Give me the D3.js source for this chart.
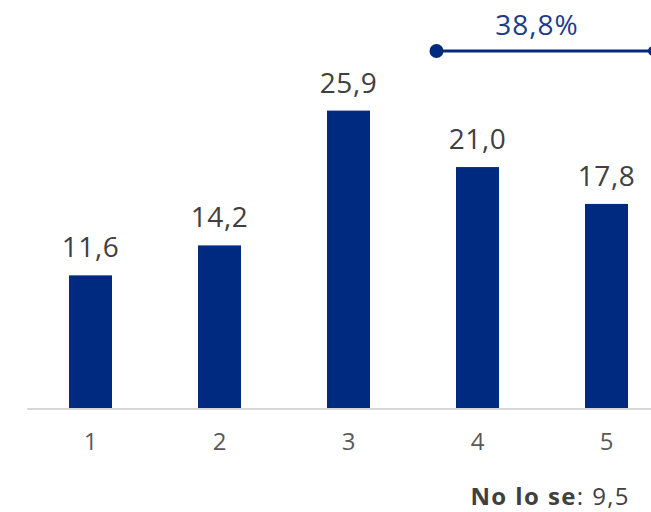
<!DOCTYPE html>
<html><head><meta charset="utf-8">
<script src="https://cdn.jsdelivr.net/npm/d3@7"></script>
<style>body{margin:0;background:#fff}svg{display:block}</style>
</head><body>
<svg id="c" width="651" height="512"></svg>
<script>
const categories = ["1","2","3","4","5"];
const values = [11.6, 14.2, 25.9, 21.0, 17.8];
const valueLabels = ["11,6","14,2","25,9","21,0","17,8"];
const bracketLabel = "38,8%";
const bracketFrom = "4";
const noLoSeLabel = "No lo se";
const noLoSeValue = "9,5";

const font = "Open Sans, sans-serif";
const svg = d3.select("#c");
const x = d3.scaleBand().domain(categories).range([26, 671]).paddingInner(2/3).paddingOuter(1/3);
const y = d3.scaleLinear().domain([0, 35.5]).range([409, 0]);

svg.selectAll("rect.bar").data(values).join("rect")
  .attr("class","bar")
  .attr("x",(d,i)=>x(categories[i]))
  .attr("y",d=>y(d))
  .attr("width",x.bandwidth())
  .attr("height",d=>y(0)-y(d))
  .attr("fill","#002A7F");

svg.selectAll("text.val").data(values).join("text")
  .attr("class","val")
  .attr("x",(d,i)=>x(categories[i])+x.bandwidth()/2)
  .attr("y",d=>y(d)-18)
  .attr("text-anchor","middle")
  .attr("font-family",font).attr("font-size",28).attr("letter-spacing",0.6)
  .attr("fill","#404040")
  .text((d,i)=>valueLabels[i]);

// axis
const ax = svg.append("g").attr("transform","translate(0,409)")
  .call(d3.axisBottom(x).tickSize(0).tickPadding(0));
ax.select(".domain").attr("stroke","#d9d9d9").attr("stroke-width",2)
  .attr("d","M27,0H651");
ax.selectAll("text").attr("dy",null).attr("y",41)
  .attr("font-family",font).attr("font-size",24).attr("fill","#595959");

// bracket
const bx = x(bracketFrom)+x.bandwidth()/2 - 41;
const by = 51;
svg.append("line").attr("x1",bx).attr("x2",651).attr("y1",by).attr("y2",by)
  .attr("stroke","#002A7F").attr("stroke-width",3);
svg.append("circle").attr("cx",bx).attr("cy",by).attr("r",7).attr("fill","#002A7F");
svg.append("circle").attr("cx",653).attr("cy",by).attr("r",5).attr("fill","#002A7F");
svg.append("text").attr("x",537).attr("y",35).attr("text-anchor","middle")
  .attr("font-family",font).attr("font-size",28).attr("letter-spacing",1).attr("fill","#1F3A8A").text(bracketLabel);

// No lo se
const t = svg.append("text").attr("x",630).attr("y",505).attr("text-anchor","end")
  .attr("font-family",font).attr("font-size",24).attr("letter-spacing",1.4).attr("fill","#404040");
t.append("tspan").attr("font-weight","bold").text(noLoSeLabel);
t.append("tspan").text(": "+noLoSeValue);
</script>
</body></html>
